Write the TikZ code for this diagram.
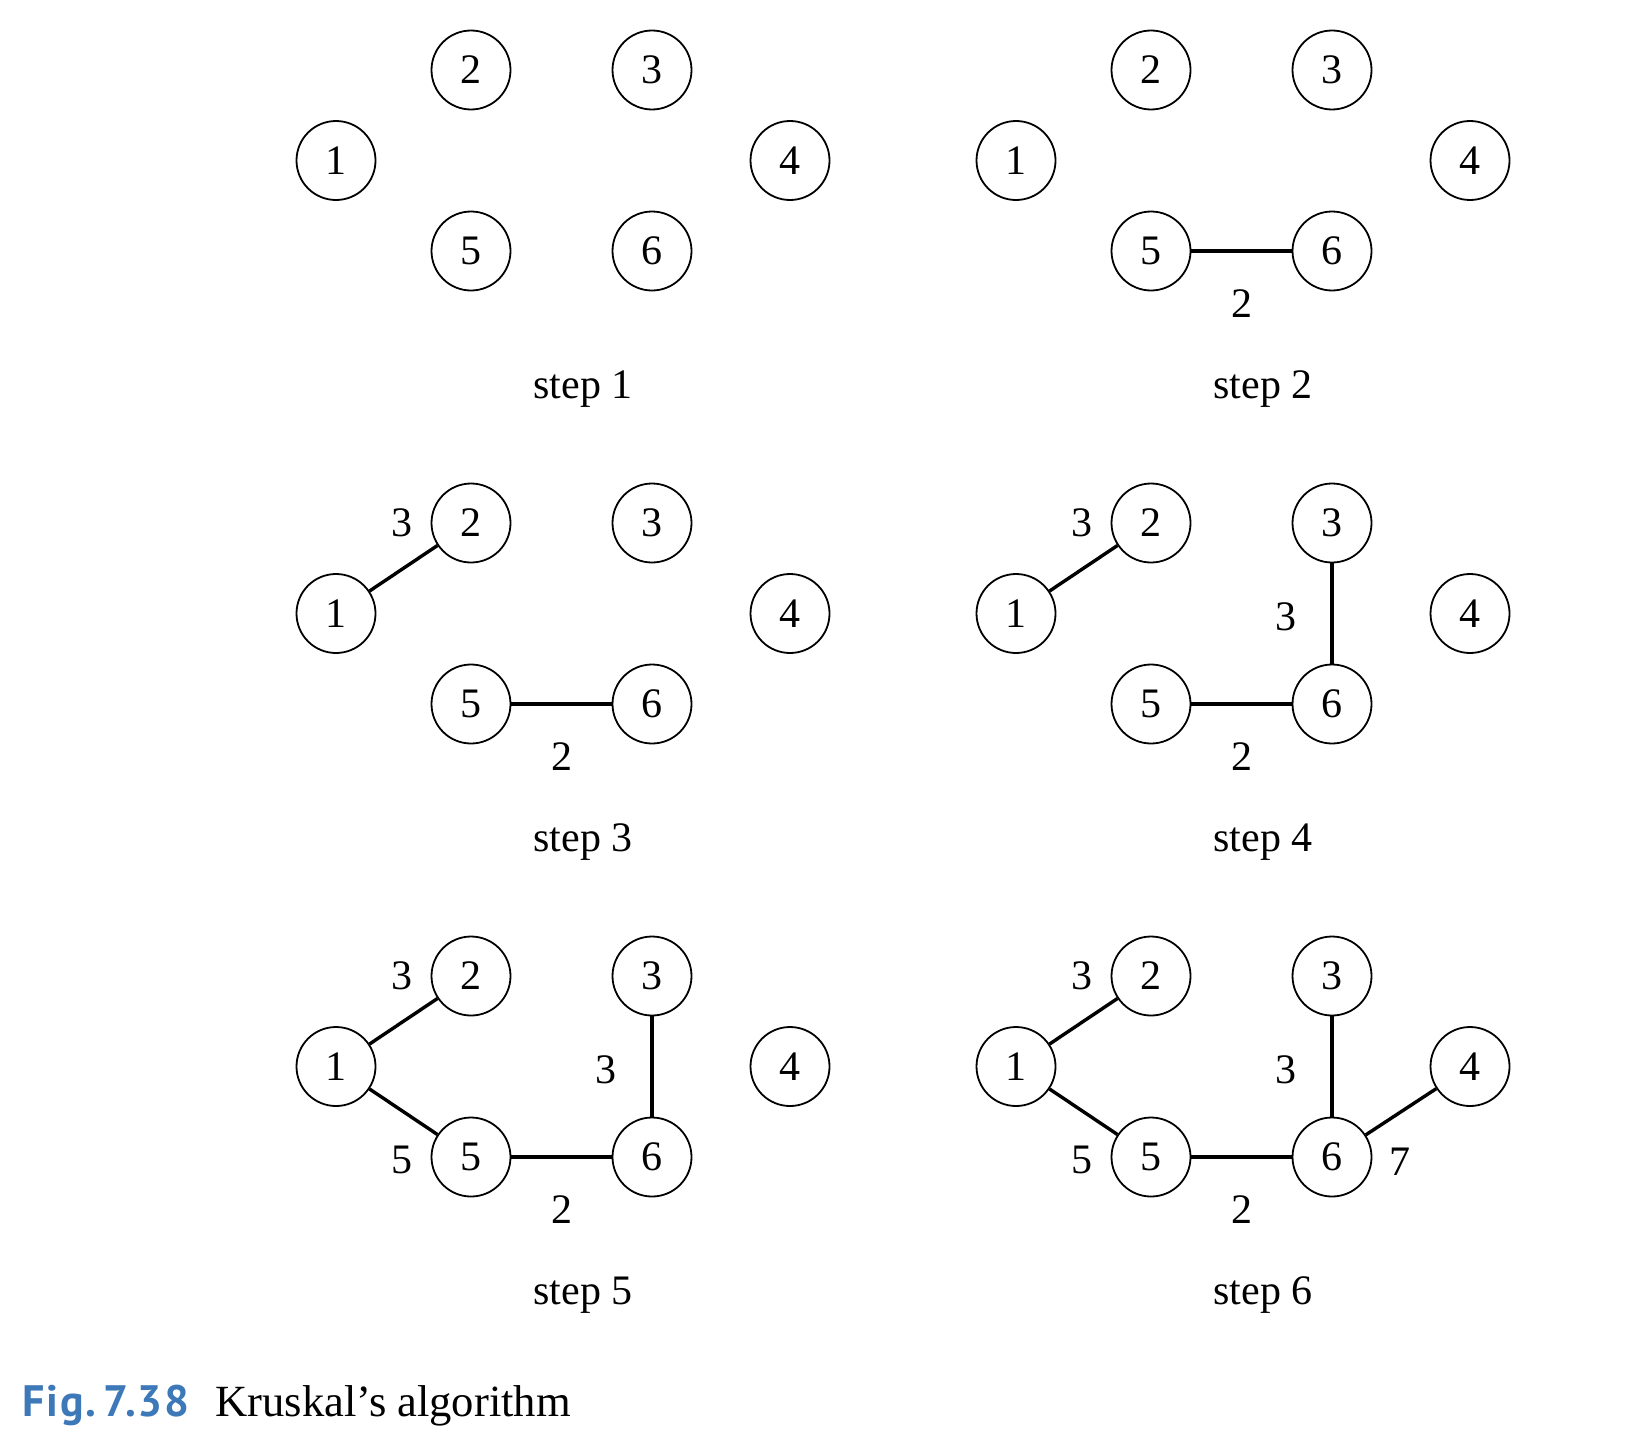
\documentclass[tikz,border=0pt]{standalone}
\usepackage{fontspec}
\setmainfont{Liberation Serif}
\newfontfamily\capfont{PT Sans}[LetterSpace=4]
\definecolor{figblue}{RGB}{61,120,184}
\newcommand\sixnodes[3]{%
  \begin{scope}[shift={(#2,#3)}]
    \node[vtx] (#1-1) at (336,160.5) {1};
    \node[vtx] (#1-2) at (471,70) {2};
    \node[vtx] (#1-3) at (652,70) {3};
    \node[vtx] (#1-4) at (790,160.5) {4};
    \node[vtx] (#1-5) at (471,251) {5};
    \node[vtx] (#1-6) at (652,251) {6};
  \end{scope}}
\begin{document}
\begin{tikzpicture}[x=0.5pt,y=-0.5pt,
  vtx/.style={circle,draw,line width=0.9pt,minimum size=39.5pt,inner sep=0pt,font=\fontsize{21}{21}\selectfont},
  edgeline/.style={line width=1.7pt},
  wt/.style={inner sep=0pt,font=\fontsize{21}{21}\selectfont},
  steplab/.style={anchor=base,inner sep=0pt,font=\fontsize{21}{21}\selectfont}]
\useasboundingbox (0,0) rectangle (1636,1450);

% step 1
\sixnodes{sa}{0}{0}
\node[steplab] (la) at (583,398) {step 1};

% step 2
\sixnodes{sb}{680}{0}
\draw[edgeline] (sb-5) -- (sb-6);
\node[wt] (wb56) at (1242,304) {2};
\node[steplab] (lb) at (1263,398) {step 2};

% step 3
\sixnodes{sc}{0}{453}
\draw[edgeline] (sc-1) -- (sc-2);
\draw[edgeline] (sc-5) -- (sc-6);
\node[wt] (wc12) at (402,523) {3};
\node[wt] (wc56) at (562,757) {2};
\node[steplab] (lc) at (583,851) {step 3};

% step 4
\sixnodes{sd}{680}{453}
\draw[edgeline] (sd-1) -- (sd-2);
\draw[edgeline] (sd-5) -- (sd-6);
\draw[edgeline] (sd-3) -- (sd-6);
\node[wt] (wd12) at (1082,523) {3};
\node[wt] (wd36) at (1286,616.5) {3};
\node[wt] (wd56) at (1242,757) {2};
\node[steplab] (ld) at (1263,851) {step 4};

% step 5
\sixnodes{se}{0}{906}
\draw[edgeline] (se-1) -- (se-2);
\draw[edgeline] (se-1) -- (se-5);
\draw[edgeline] (se-5) -- (se-6);
\draw[edgeline] (se-3) -- (se-6);
\node[wt] (we12) at (402,976) {3};
\node[wt] (we36) at (606,1069.5) {3};
\node[wt] (we15) at (402,1160) {5};
\node[wt] (we56) at (562,1210) {2};
\node[steplab] (le) at (583,1304) {step 5};

% step 6
\sixnodes{sf}{680}{906}
\draw[edgeline] (sf-1) -- (sf-2);
\draw[edgeline] (sf-1) -- (sf-5);
\draw[edgeline] (sf-5) -- (sf-6);
\draw[edgeline] (sf-3) -- (sf-6);
\draw[edgeline] (sf-6) -- (sf-4);
\node[wt] (wf12) at (1082,976) {3};
\node[wt] (wf36) at (1286,1069.5) {3};
\node[wt] (wf15) at (1082,1160) {5};
\node[wt] (wf56) at (1242,1210) {2};
\node[wt] (wf64) at (1400,1162) {7};
\node[steplab] (lf) at (1263,1304) {step 6};

% caption
\node[anchor=base west,inner sep=0pt,text=figblue,font=\capfont\bfseries\fontsize{22}{22}\selectfont] (fig) at (22,1416) {Fig.\,7.38};
\node[anchor=base west,inner sep=0pt,font=\fontsize{22.3}{22.3}\selectfont] (cap) at (215,1416) {Kruskal’s algorithm};
\end{tikzpicture}
\end{document}
